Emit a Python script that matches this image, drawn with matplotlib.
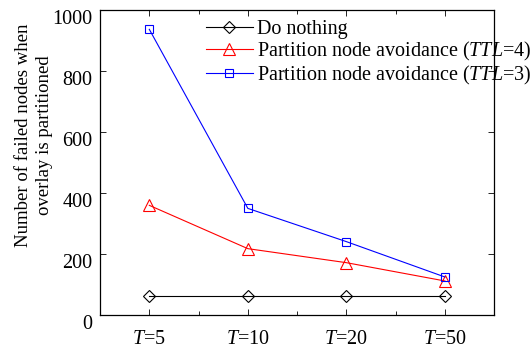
import matplotlib
matplotlib.use('Agg')
import matplotlib.pyplot as plt
import matplotlib.transforms as mtransforms

plt.rcParams['font.family'] = ['Liberation Serif', 'DejaVu Serif']
plt.rcParams['mathtext.fontset'] = 'custom'
plt.rcParams['mathtext.rm'] = 'Liberation Serif'
plt.rcParams['mathtext.it'] = 'Liberation Serif:italic'

# data
periods = ['$T$=5', '$T$=10', '$T$=20', '$T$=50']
do_nothing = [62, 62, 62, 62]
avoid_ttl4 = [360, 218, 172, 112]
avoid_ttl3 = [937, 350, 241, 125]

x = list(range(1, len(periods) + 1))

fig = plt.figure(figsize=(5.32, 3.49), dpi=100)
ax = fig.add_axes([0.188, 0.097, 0.741, 0.874])

ax.plot(x, do_nothing, color='k', lw=0.8, marker='D', ms=6.5,
        mfc='none', mec='k', mew=0.8, label='Do nothing')
ax.plot(x, avoid_ttl4, color='r', lw=0.8, marker='^', ms=9,
        mfc='none', mec='r', mew=0.8,
        label='Partition node avoidance ($TTL$=4)')
ax.plot(x, avoid_ttl3, color='b', lw=0.8, marker='s', ms=6,
        mfc='none', mec='b', mew=0.8,
        label='Partition node avoidance ($TTL$=3)')

ax.set_xlim(0.5, 4.5)
ax.set_ylim(0, 1000)
ax.set_xticks(x)
ax.set_xticklabels(periods)
ax.set_xticks([1.5, 2.5, 3.5], minor=True)
ax.set_yticks([0, 200, 400, 600, 800, 1000])
ax.tick_params(which='both', direction='in', top=True, right=True,
               labelsize=14.5, width=0.6)
ax.tick_params(which='major', length=4)
ax.tick_params(which='minor', length=3)
ax.tick_params(axis='x', which='major', pad=11)
ax.tick_params(axis='y', pad=5.5)

# y tick labels sit a little low in the original
off = mtransforms.ScaledTranslation(0, -7 / 100, fig.dpi_scale_trans)
for lab in ax.get_yticklabels():
    lab.set_transform(lab.get_transform() + off)

for s in ax.spines.values():
    s.set_linewidth(0.9)

ax.set_ylabel('Number of failed nodes when\noverlay is partitioned',
              fontsize=13.5, linespacing=1.25)
ax.yaxis.set_label_coords(-0.12, 0.59)

leg = ax.legend(loc='upper left', bbox_to_anchor=(0.268, 0.968),
                frameon=False, fontsize=14.5, handlelength=2.35,
                handletextpad=0.2, labelspacing=0.04, borderpad=0,
                borderaxespad=0)
leg.set_zorder(2)

fig.savefig('out.png', dpi=100)
